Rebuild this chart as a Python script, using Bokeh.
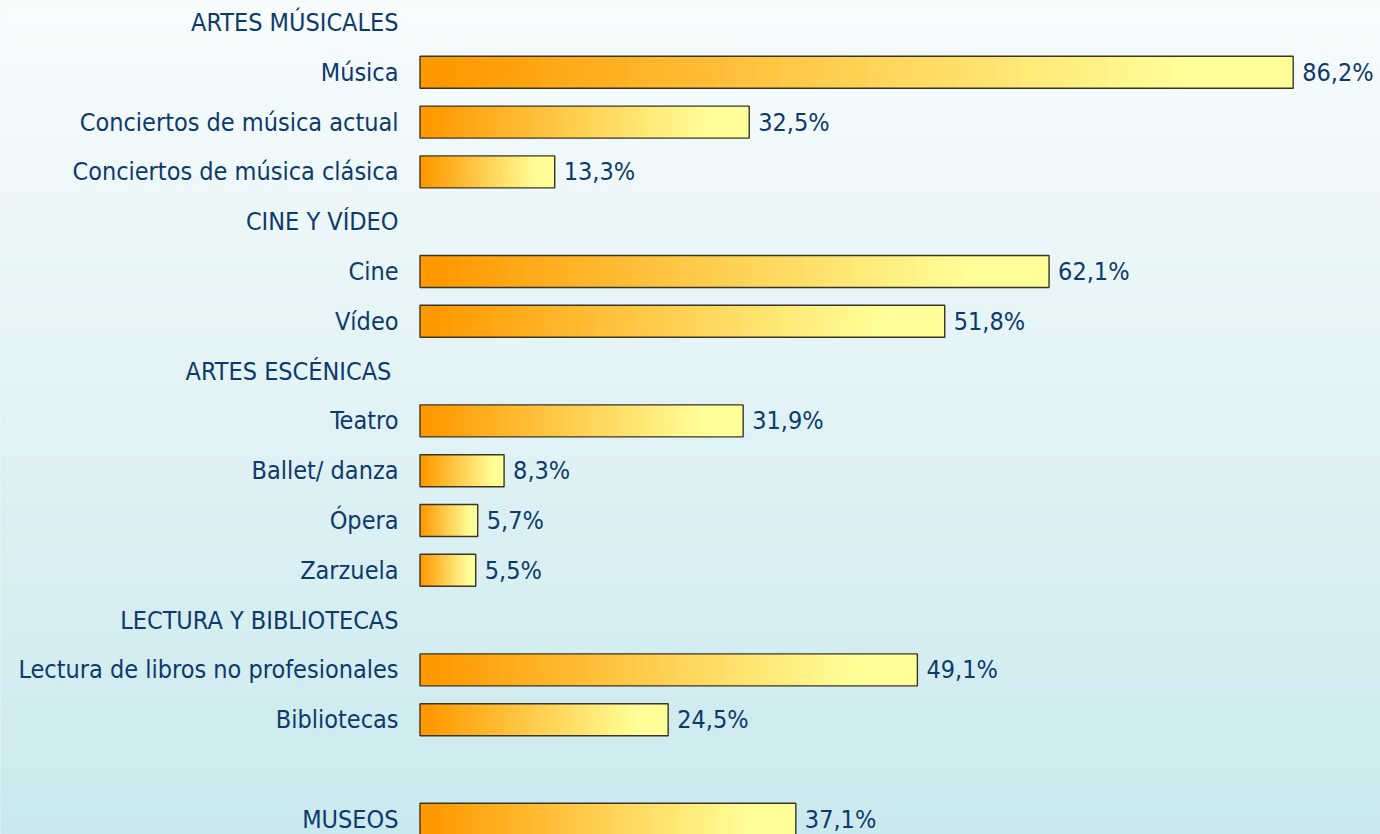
from bokeh.plotting import figure
from bokeh.models import Range1d, ColumnDataSource
from bokeh.core.properties import value
from bokeh.embed import file_html
from bokeh.resources import INLINE

# ---- data ----
labels = ["ARTES MÚSICALES", "Música", "Conciertos de música actual",
          "Conciertos de música clásica", "CINE Y VÍDEO", "Cine", "Vídeo",
          "ARTES ESCÉNICAS\u00a0", "Teatro", "Ballet/ danza", "Ópera", "Zarzuela",
          "LECTURA Y BIBLIOTECAS", "Lectura de libros no profesionales",
          "Bibliotecas", "", "MUSEOS"]
values = [None, 86.2, 32.5, 13.3, None, 62.1, 51.8, None, 31.9, 8.3, 5.7, 5.5,
          None, 49.1, 24.5, None, 37.1]
value_labels = ["", "86,2%", "32,5%", "13,3%", "", "62,1%", "51,8%", "", "31,9%",
                "8,3%", "5,7%", "5,5%", "", "49,1%", "24,5%", "", "37,1%"]

# ---- layout constants ----
W, H = 1380, 834
PX_PER_UNIT = 10.13      # pixels per percentage point
X0_PX = 419.5            # pixel position of value 0
ROW_PX = 49.8            # row pitch in pixels
ROW0_PX = 22.0           # centre of first row from top
BAR_H = 32.0 / ROW_PX
FONT = value("DejaVu Sans Condensed, DejaVu Sans")
FONT_SIZE = "25px"

x_start = -X0_PX / PX_PER_UNIT
x_end = (W - X0_PX) / PX_PER_UNIT
y_top = -ROW0_PX / ROW_PX
y_bot = (H - ROW0_PX) / ROW_PX

p = figure(width=W, height=H, output_backend="svg", toolbar_location=None,
           x_range=Range1d(x_start, x_end), y_range=Range1d(y_bot, y_top),
           min_border=0, outline_line_color=None)
p.axis.visible = False
p.grid.visible = False


def lerp(c1, c2, t):
    return "#%02x%02x%02x" % tuple(int(round(a + (b - a) * t)) for a, b in zip(c1, c2))


# ---- background vertical gradient ----
bg_top = (248, 252, 253)
bg_bot = (202, 233, 238)
NB = 140
pad = 5
bl, br, bt, bb, bc = [], [], [], [], []
for k in range(NB):
    t0 = y_top + (y_bot - y_top) * k / NB
    t1 = y_top + (y_bot - y_top) * (k + 1.6) / NB
    bl.append(x_start - pad); br.append(x_end + pad); bt.append(t0); bb.append(t1)
    bc.append(lerp(bg_top, bg_bot, (k + 0.5) / NB))
p.quad(left=bl, right=br, top=bt, bottom=bb, fill_color=bc, line_color=None)
p.background_fill_color = lerp(bg_top, bg_bot, 0.5)
p.border_fill_color = lerp(bg_top, bg_bot, 0.5)

# ---- bars with horizontal gradient ----
c_left = (255, 153, 0)
c_right = (255, 255, 153)
NS = 80
ql, qr, qt, qb, qc = [], [], [], [], []
ol, orr, ot, ob = [], [], [], []
for i, v in enumerate(values):
    if v is None:
        continue
    for k in range(NS):
        a = v * k / NS
        b = min(v, v * (k + 1.8) / NS)
        t = (k + 0.5) / NS
        tt = min(1.0, max(0.0, (t - 0.03) / 0.85))
        ql.append(a); qr.append(b)
        qt.append(i - BAR_H / 2); qb.append(i + BAR_H / 2)
        qc.append(lerp(c_left, c_right, tt))
    ol.append(0); orr.append(v); ot.append(i - BAR_H / 2); ob.append(i + BAR_H / 2)

p.quad(left=ql, right=qr, top=qt, bottom=qb, fill_color=qc, line_color=None)
p.quad(left=ol, right=orr, top=ot, bottom=ob, fill_color=None,
       line_color="#3b3526", line_width=1.4)

# ---- category labels ----
text_color = "#0d3a6a"
lab_x = (398 - X0_PX) / PX_PER_UNIT
src_l = ColumnDataSource(dict(x=[lab_x] * len(labels), y=list(range(len(labels))), t=labels))
p.text(x="x", y="y", text="t", source=src_l, text_align="right", text_baseline="middle",
       text_font=FONT, text_font_size=FONT_SIZE, text_color=text_color)

# ---- value labels ----
vx, vy, vt = [], [], []
for i, v in enumerate(values):
    if v is None:
        continue
    vx.append(v); vy.append(i); vt.append(value_labels[i])
src_v = ColumnDataSource(dict(x=vx, y=vy, t=vt))
p.text(x="x", y="y", text="t", source=src_v, text_align="left", text_baseline="middle",
       x_offset=9, text_font=FONT, text_font_size=FONT_SIZE, text_color=text_color)

open("out.html", "w").write(file_html(p, INLINE))
